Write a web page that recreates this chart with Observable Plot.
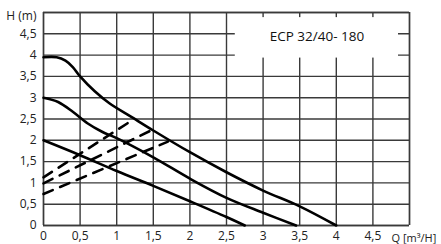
<!DOCTYPE html>
<html><head><meta charset="utf-8">
<script src="https://cdn.jsdelivr.net/npm/d3@7"></script>
<script src="https://cdn.jsdelivr.net/npm/@observablehq/plot@0.6"></script>
<style>body{margin:0;background:#fff;} #chart{width:441px;height:244px;}</style>
</head><body><div id="chart"></div>
<script>
const xTicks = [0,0.5,1,1.5,2,2.5,3,3.5,4,4.5];
const xLabels = ["0","0,5","1","1,5","2","2,5","3","3,5","4","4,5"];
const yTicks = [0,0.5,1,1.5,2,2.5,3,3.5,4,4.5];
const yLabels = ["0","0,5","1","1,5","2","2,5","3","3,5","4","4,5"];
const gridLines = [0,0.5,1,1.5,2,2.5,3,3.5,4,4.5,5];
const xTitle = "Q [m³/H]";
const yTitle = "H (m)";
const modelName = "ECP 32/40- 180";

// speed curves (solid)
const maxQ = [0,0.18,0.3,0.4,0.5,0.7,0.9,1.2,1.5,2,2.5,3,3.5,4];
const maxH = [3.95,3.95,3.87,3.72,3.5,3.15,2.87,2.55,2.23,1.72,1.25,0.82,0.45,0];
const midQ = [0,0.2,0.4,0.6,0.8,1,1.5,2,2.5,3,3.45];
const midH = [3.0,2.9,2.67,2.4,2.2,2.05,1.6,1.1,0.65,0.3,0];
const minQ = [0,0.5,1,1.5,2,2.5,2.75];
const minH = [2.0,1.65,1.28,0.93,0.57,0.2,0];

// proportional-pressure curves (dashed)
const ppAQ = [0,1.22], ppAH = [1.13,2.48];
const ppBQ = [0,1.48], ppBH = [0.99,2.24];
const ppCQ = [0,1.70], ppCH = [0.74,1.97];

// label box extent
const boxQ = [2.62,4.85], boxH = [3.93,4.88];

const toPts = (q,h) => q.map((v,i)=>({q:v,h:h[i]}));
const solid = [toPts(maxQ,maxH), toPts(midQ,midH), toPts(minQ,minH)];
const dashed = [toPts(ppAQ,ppAH), toPts(ppBQ,ppBH), toPts(ppCQ,ppCH)];

const gridColor = "#3a3a3a";
const plot = Plot.plot({
  width: 441, height: 244,
  marginLeft: 43, marginRight: 32, marginTop: 12, marginBottom: 19,
  x: {domain:[0,5]}, y: {domain:[0,5]},
  style: {fontFamily:"'Open Sans', sans-serif", fontSize:"12px", color:"#222", background:"#fff"},
  marks: [
    Plot.ruleX(gridLines, {stroke:gridColor, strokeWidth:1.4}),
    Plot.ruleY(gridLines, {stroke:gridColor, strokeWidth:1.4}),
    Plot.rect([0], {x1:()=>boxQ[0], x2:()=>boxQ[1], y1:()=>boxH[0], y2:()=>boxH[1], fill:"#fff"}),
    Plot.ruleX([0,5], {stroke:gridColor, strokeWidth:1.4}),
    Plot.ruleY([0,5], {stroke:gridColor, strokeWidth:1.4}),
    Plot.text([modelName], {x:(boxQ[0]+boxQ[1])/2, y:(boxH[0]+boxH[1])/2, text:d=>d, fontSize:13.5, fill:"#111", dy:-1}),
    ...solid.map(d => Plot.line(d, {x:"q", y:"h", stroke:"#000", strokeWidth:2.6, curve:"catmull-rom"})),
    ...dashed.map(d => Plot.line(d, {x:"q", y:"h", stroke:"#000", strokeWidth:2.6, strokeDasharray:"10,8"})),
    Plot.axisX(xTicks, {tickSize:0, tickPadding:6, tickFormat:d=>xLabels[xTicks.indexOf(d)], fontSize:12, label:null}),
    Plot.axisY(yTicks, {tickSize:0, tickPadding:7, tickFormat:d=>yLabels[yTicks.indexOf(d)], fontSize:12, label:null}),
    Plot.text([yTitle], {x:0, y:5, text:d=>d, textAnchor:"end", dx:-7, dy:4, fontSize:12}),
    Plot.text([xTitle], {x:5, y:0, text:d=>d, textAnchor:"start", dx:-18, dy:13, fontSize:11})
  ]
});
document.getElementById("chart").append(plot);
</script></body></html>
